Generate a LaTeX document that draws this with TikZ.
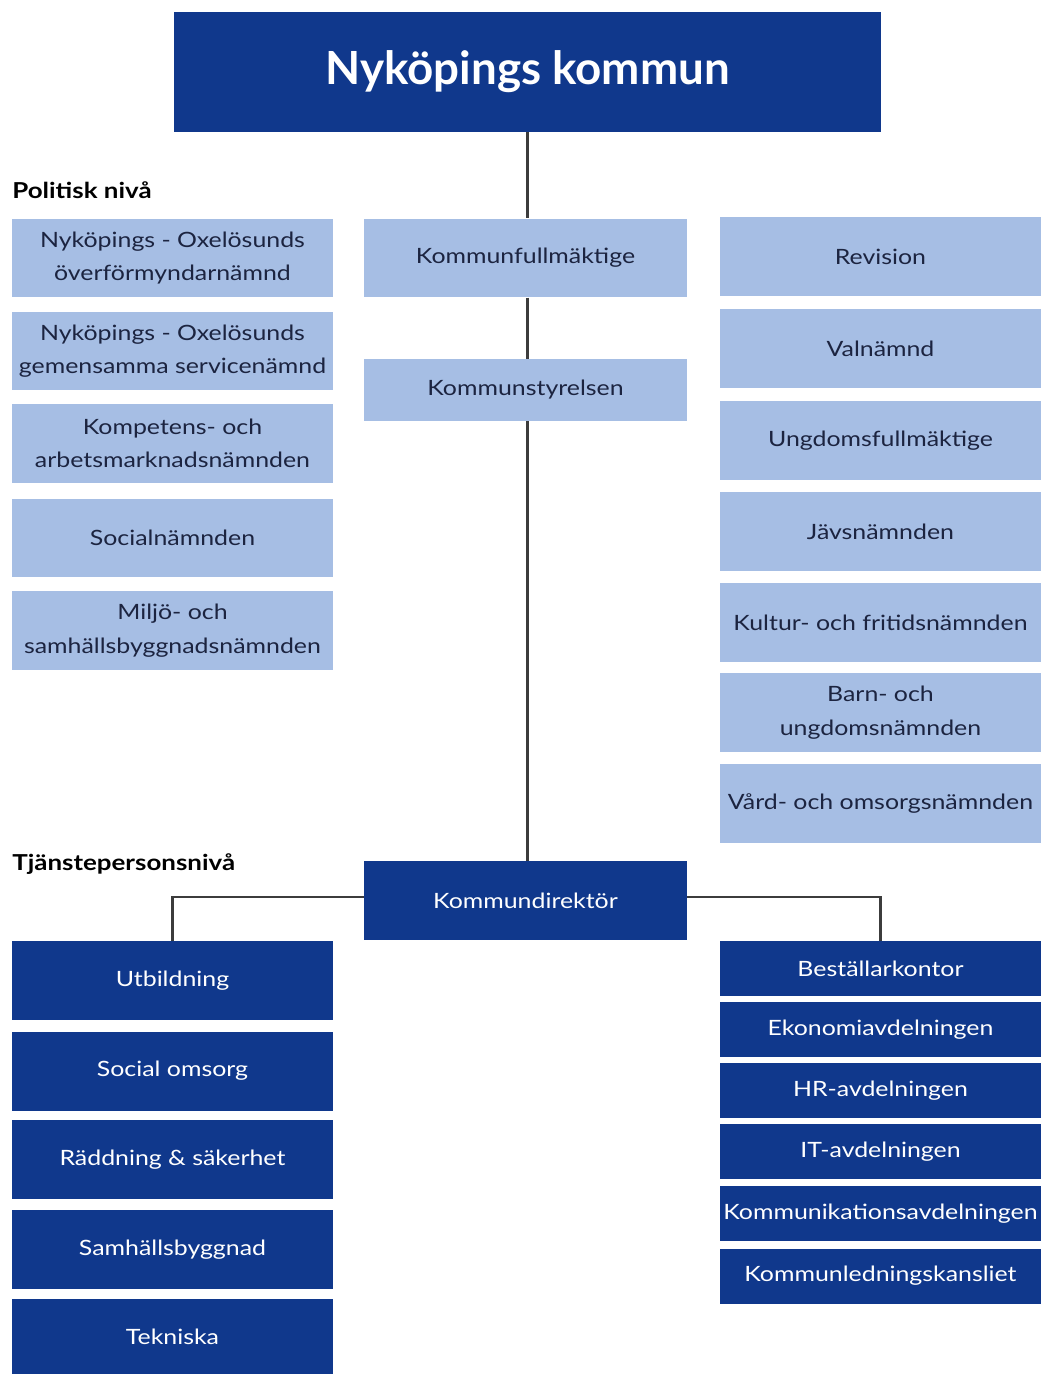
\documentclass[tikz,border=0pt]{standalone}
\usepackage{fontspec}
\setmainfont{Lato}[FakeStretch=1.18]
\newfontfamily\titlefont{Lato}
\usepackage{tikz}
\usetikzlibrary{positioning}
\definecolor{nykdark}{RGB}{16,56,140}
\definecolor{nyklight}{RGB}{166,190,228}
\definecolor{nyktext}{RGB}{28,36,64}
\definecolor{nykline}{RGB}{60,60,60}

\begin{document}
\begin{tikzpicture}[x=0.02cm, y=-0.02cm,
    polbox/.style={fill=nyklight, text=nyktext, inner sep=0pt, align=center,
        minimum width=6.42cm, minimum height=1.57cm,
        font=\fontsize{12}{19}\selectfont},
    tjbox/.style={fill=nykdark, text=white, inner sep=0pt, align=center,
        minimum width=6.42cm, minimum height=1.58cm,
        font=\fontsize{12}{19}\selectfont},
    levellabel/.style={font=\fontsize{12.5}{14}\selectfont\bfseries, text=black, anchor=west, inner sep=0pt},
    orgline/.style={draw=nykline, line width=1.2pt}]
    \useasboundingbox (0,0) rectangle (1042,1374);

    % --- Title ---
    \node[fill=nykdark, text=white, minimum width=14.14cm, minimum height=2.4cm,
        font=\titlefont\fontsize{26}{30}\selectfont\bfseries] (kommun) at (527.5,72) {Nyköpings kommun};

    % --- Political level ---
    \node[levellabel] (polniva) at (12,190) {Politisk nivå};

    % left column
    \node[polbox] (overform) at (172.5,258) {Nyköpings - Oxelösunds\\överförmyndarnämnd};
    \node[polbox] (service) at (172.5,351) {Nyköpings - Oxelösunds\\gemensamma servicenämnd};
    \node[polbox] (kompetens) at (172.5,443.5) {Kompetens- och\\arbetsmarknadsnämnden};
    \node[polbox] (social) at (172.5,538) {Socialnämnden};
    \node[polbox] (miljo) at (172.5,630.5) {Miljö- och\\samhällsbyggnadsnämnden};

    % middle column
    \node[polbox, minimum width=6.46cm] (kf) at (525.5,258) {Kommunfullmäktige};
    \node[polbox, minimum width=6.46cm, minimum height=1.24cm] (ks) at (525.5,390) {Kommunstyrelsen};

    % right column
    \node[polbox] (revision) at (880.5,256.5) {Revision};
    \node[polbox] (valnamnd) at (880.5,348.5) {Valnämnd};
    \node[polbox] (ungdom) at (880.5,440.5) {Ungdomsfullmäktige};
    \node[polbox] (javs) at (880.5,531.5) {Jävsnämnden};
    \node[polbox] (kultur) at (880.5,622.5) {Kultur- och fritidsnämnden};
    \node[polbox] (barn) at (880.5,712.5) {Barn- och\\ungdomsnämnden};
    \node[polbox] (vard) at (880.5,803.5) {Vård- och omsorgsnämnden};

    % --- Officials level ---
    \node[levellabel] (tjniva) at (12,864) {Tjänstepersonsnivå};
    \node[tjbox, minimum width=6.46cm] (kd) at (525.5,900.5) {Kommundirektör};

    % left: departments
    \node[tjbox] (utb) at (172.5,980.5) {Utbildning};
    \node[tjbox] (omsorg) at (172.5,1071) {Social omsorg};
    \node[tjbox] (raddning) at (172.5,1159.5) {Räddning \& säkerhet};
    \node[tjbox] (samhall) at (172.5,1249.5) {Samhällsbyggnad};
    \node[tjbox, minimum height=1.5cm] (tekniska) at (172.5,1336.5) {Tekniska};

    % right: offices
    \node[tjbox, minimum height=1.1cm] (bestall) at (880.5,968.5) {Beställarkontor};
    \node[tjbox, minimum height=1.1cm] (ekonomi) at (880.5,1029.5) {Ekonomiavdelningen};
    \node[tjbox, minimum height=1.1cm] (hr) at (880.5,1090.5) {HR-avdelningen};
    \node[tjbox, minimum height=1.1cm] (it) at (880.5,1151.5) {IT-avdelningen};
    \node[tjbox, minimum height=1.1cm] (kommunikation) at (880.5,1213.5) {Kommunikationsavdelningen};
    \node[tjbox, minimum height=1.1cm] (kansli) at (880.5,1276) {Kommunledningskansliet};

    % --- Connectors ---
    \draw[orgline] (kommun.south) -- (kommun.south |- kf.north);
    \draw[orgline] (kf.south -| kommun.south) -- (ks.north -| kommun.south);
    \draw[orgline] (ks.south -| kommun.south) -- (kd.north -| kommun.south);
    \draw[orgline] ([yshift=2pt]kd.west) -| (utb.north);
    \draw[orgline] ([yshift=2pt]kd.east) -| (bestall.north);
\end{tikzpicture}
\end{document}
